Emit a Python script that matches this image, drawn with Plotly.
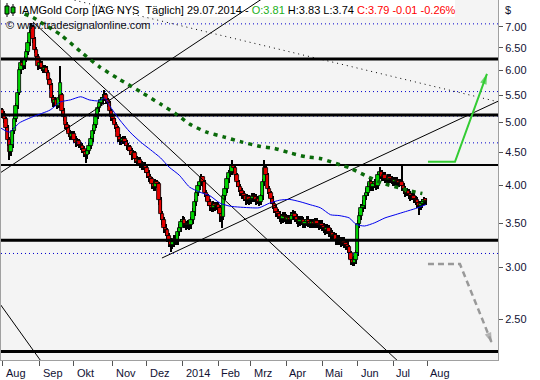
import math
import plotly.graph_objects as go

# ---------------- data ----------------
# daily OHLC, 01.08.2013 .. 29.07.2014 (trading-day index 0..249)
opens = [
5.22,5.15,5.05,4.90,
4.70,4.50,4.62,4.85,5.05,
5.30,5.55,6.00,6.15,6.10,
6.25,6.40,6.60,6.85,7.00,
6.70,6.45,6.30,6.10,6.15,
6.05,6.00,6.05,5.95,5.80,
5.70,5.45,5.35,5.40,5.30,
5.40,5.50,5.20,5.10,4.95,
4.90,4.80,4.75,4.80,4.70,
4.65,4.68,4.62,4.60,4.55,
4.50,4.45,4.52,4.60,4.72,
4.85,4.95,5.10,5.25,5.35,
5.40,5.45,5.50,5.40,5.35,
5.20,5.10,5.05,4.95,4.90,
4.75,4.70,4.68,4.72,4.66,
4.60,4.58,4.52,4.45,4.48,
4.40,4.35,4.38,4.32,4.28,
4.30,4.25,4.18,4.12,4.10,
4.02,3.98,4.05,4.02,3.80,
3.62,3.55,3.45,3.42,3.35,
3.30,3.25,3.28,3.32,3.30,
3.40,3.45,3.52,3.55,3.50,
3.48,3.50,3.48,3.55,3.65,
3.78,3.90,4.00,4.05,4.12,
4.05,3.90,3.85,3.78,3.72,
3.70,3.75,3.72,3.74,3.70,
3.62,3.58,3.85,3.95,4.10,
4.18,4.20,4.28,4.25,4.15,
4.05,3.98,3.92,3.88,3.85,
3.80,3.84,3.80,3.82,3.86,
3.84,3.80,3.82,3.78,3.85,
4.05,4.25,4.15,3.95,3.90,
3.82,3.75,3.70,3.65,3.62,
3.58,3.56,3.60,3.58,3.55,
3.57,3.55,3.60,3.62,3.58,
3.55,3.52,3.55,3.54,3.50,
3.52,3.55,3.52,3.50,3.52,
3.50,3.53,3.50,3.48,3.50,
3.47,3.45,3.42,3.45,3.40,
3.38,3.35,3.36,3.30,3.32,
3.30,3.28,3.30,3.27,3.25,
3.22,3.15,3.08,3.05,3.08,
3.15,3.50,3.60,3.70,3.72,
3.85,3.90,3.98,4.05,3.98,
4.02,4.05,4.00,4.15,4.20,
4.12,4.15,4.10,4.08,4.12,
4.10,4.08,4.05,4.08,4.06,
4.04,4.05,4.00,3.95,3.90,
3.92,3.88,3.85,3.86,3.82,
3.80,3.76,3.72,3.75,3.78,
3.81]

highs = [
5.26,5.20,5.10,4.95,
4.74,4.68,4.90,5.10,5.36,
5.62,6.08,6.22,6.22,6.32,
6.48,6.68,6.92,7.10,7.04,
6.76,6.52,6.36,6.22,6.20,
6.12,6.12,6.10,6.00,5.85,
5.75,5.50,5.46,5.44,5.50,
6.10,5.55,5.25,5.14,5.00,
4.95,4.86,4.85,4.84,4.76,
4.73,4.72,4.67,4.65,4.60,
4.54,4.57,4.65,4.77,4.90,
5.00,5.16,5.30,5.40,5.46,
5.52,5.60,5.54,5.45,5.38,
5.24,5.14,5.08,5.00,4.94,
4.80,4.75,4.77,4.76,4.70,
4.64,4.62,4.56,4.53,4.52,
4.44,4.43,4.42,4.36,4.35,
4.34,4.28,4.22,4.16,4.13,
4.06,4.10,4.08,4.05,3.84,
3.66,3.58,3.50,3.45,3.39,
3.33,3.32,3.36,3.36,3.44,
3.50,3.56,3.60,3.58,3.53,
3.54,3.53,3.58,3.70,3.82,
3.94,4.05,4.10,4.16,4.14,
4.08,3.94,3.88,3.82,3.76,
3.79,3.78,3.78,3.77,3.73,
3.66,3.88,3.99,4.14,4.22,
4.26,4.38,4.32,4.28,4.18,
4.08,4.02,3.96,3.92,3.89,
3.88,3.87,3.86,3.90,3.90,
3.88,3.86,3.85,3.89,4.10,
4.38,4.30,4.18,3.99,3.93,
3.86,3.79,3.74,3.69,3.66,
3.62,3.64,3.64,3.62,3.61,
3.61,3.64,3.67,3.66,3.62,
3.59,3.59,3.59,3.58,3.56,
3.59,3.59,3.56,3.56,3.56,
3.57,3.57,3.54,3.54,3.54,
3.51,3.49,3.49,3.48,3.44,
3.42,3.40,3.39,3.36,3.36,
3.34,3.34,3.34,3.31,3.29,
3.25,3.18,3.11,3.12,3.19,
3.54,3.65,3.75,3.80,3.90,
3.96,4.04,4.10,4.08,4.07,
4.10,4.08,4.20,4.27,4.22,
4.20,4.19,4.14,4.17,4.16,
4.14,4.12,4.12,4.12,4.10,
4.10,4.30,4.04,3.99,3.96,
3.95,3.92,3.90,3.90,3.86,
3.84,3.79,3.79,3.82,3.84,
3.83]

lows = [
5.08,4.98,4.84,4.60,
4.38,4.44,4.56,4.80,5.00,
5.24,5.50,5.92,6.02,6.04,
6.18,6.34,6.54,6.78,6.62,
6.38,6.22,6.02,6.04,5.98,
5.94,5.94,5.88,5.72,5.62,
5.38,5.28,5.29,5.24,5.25,
5.34,5.14,5.03,4.88,4.83,
4.74,4.69,4.70,4.64,4.58,
4.60,4.56,4.54,4.49,4.43,
4.33,4.40,4.47,4.55,4.67,
4.80,4.90,5.05,5.19,5.29,
5.34,5.38,5.33,5.28,5.13,
5.03,4.98,4.88,4.83,4.66,
4.62,4.62,4.63,4.60,4.54,
4.52,4.46,4.38,4.40,4.33,
4.28,4.30,4.26,4.22,4.23,
4.18,4.11,4.05,4.04,3.95,
3.92,3.93,3.96,3.74,3.55,
3.48,3.38,3.35,3.28,3.22,
3.17,3.20,3.22,3.24,3.25,
3.35,3.40,3.46,3.44,3.42,
3.43,3.42,3.43,3.50,3.60,
3.72,3.85,3.94,3.99,3.98,
3.84,3.79,3.72,3.66,3.64,
3.65,3.66,3.67,3.63,3.52,
3.45,3.54,3.80,3.90,4.04,
4.12,4.15,4.18,4.08,3.98,
3.91,3.85,3.82,3.79,3.74,
3.75,3.74,3.75,3.77,3.78,
3.74,3.75,3.72,3.73,3.80,
4.00,4.08,3.88,3.83,3.75,
3.68,3.63,3.58,3.56,3.52,
3.50,3.51,3.52,3.49,3.50,
3.49,3.50,3.54,3.52,3.49,
3.46,3.47,3.48,3.44,3.45,
3.47,3.46,3.44,3.45,3.44,
3.45,3.44,3.42,3.43,3.41,
3.39,3.36,3.37,3.34,3.32,
3.29,3.30,3.24,3.25,3.24,
3.22,3.23,3.21,3.19,3.16,
3.09,3.03,3.01,3.01,3.04,
3.12,3.45,3.55,3.64,3.68,
3.80,3.85,3.93,3.92,3.93,
3.96,3.94,3.95,4.09,4.06,
4.07,4.04,4.02,4.03,4.04,
4.02,3.99,4.00,4.00,3.98,
3.99,3.93,3.88,3.84,3.85,
3.82,3.79,3.80,3.76,3.74,
3.70,3.61,3.67,3.70,3.73,
3.74]

closes = [
5.15,5.05,4.90,4.70,
4.50,4.62,4.85,5.05,5.30,
5.55,6.00,6.15,6.10,6.25,
6.40,6.60,6.85,7.00,6.70,
6.45,6.30,6.10,6.15,6.05,
6.00,6.05,5.95,5.80,5.70,
5.45,5.35,5.40,5.30,5.45,
5.75,5.20,5.10,4.95,4.90,
4.80,4.75,4.80,4.70,4.65,
4.68,4.62,4.60,4.55,4.50,
4.45,4.52,4.60,4.72,4.85,
4.95,5.10,5.25,5.35,5.40,
5.45,5.50,5.40,5.35,5.20,
5.10,5.05,4.95,4.90,4.75,
4.70,4.68,4.72,4.66,4.60,
4.58,4.52,4.45,4.48,4.40,
4.35,4.38,4.32,4.28,4.30,
4.25,4.18,4.12,4.10,4.02,
3.98,4.05,4.02,3.80,3.62,
3.55,3.45,3.42,3.35,3.30,
3.25,3.28,3.32,3.30,3.40,
3.45,3.52,3.55,3.50,3.48,
3.50,3.48,3.55,3.65,3.78,
3.90,4.00,4.05,4.12,4.05,
3.90,3.85,3.78,3.72,3.70,
3.75,3.72,3.74,3.70,3.62,
3.58,3.85,3.95,4.10,4.18,
4.20,4.28,4.25,4.15,4.05,
3.98,3.92,3.88,3.85,3.80,
3.84,3.80,3.82,3.86,3.84,
3.80,3.82,3.78,3.85,4.05,
4.25,4.15,3.95,3.90,3.82,
3.75,3.70,3.65,3.62,3.58,
3.56,3.60,3.58,3.55,3.57,
3.55,3.60,3.62,3.58,3.55,
3.52,3.55,3.54,3.50,3.52,
3.55,3.52,3.50,3.52,3.50,
3.53,3.50,3.48,3.50,3.47,
3.45,3.42,3.45,3.40,3.38,
3.35,3.36,3.30,3.32,3.30,
3.28,3.30,3.27,3.25,3.22,
3.15,3.08,3.05,3.08,3.15,
3.50,3.60,3.70,3.72,3.85,
3.90,3.98,4.05,3.98,4.02,
4.05,4.00,4.15,4.20,4.12,
4.15,4.10,4.08,4.12,4.10,
4.08,4.05,4.08,4.06,4.04,
4.05,4.00,3.95,3.90,3.92,
3.88,3.85,3.86,3.82,3.80,
3.76,3.72,3.75,3.78,3.80,
3.79]

# x-axis month labels at first trading day of month (index)
month_labels = ["Aug", "Sep", "Okt", "Nov", "Dez", "2014", "Feb", "Mrz",
                "Apr", "Mai", "Jun", "Jul", "Aug"]
month_idx = [0, 22, 42, 65, 85, 106, 127, 146, 167, 188, 209, 230, 250]

# y-axis ticks
y_ticks = [2.5, 3.0, 3.5, 4.0, 4.5, 5.0, 5.5, 6.0, 6.5, 7.0]

# blue moving average (index, price)
ma_blue_x = [-1, 4, 10, 18, 28, 34, 40, 46, 51, 57, 60, 63, 69, 75, 81, 87, 93,
             98, 104, 110, 116, 122, 128, 134, 146, 151, 157, 163, 169, 175,
             181, 187, 193, 198, 204, 208, 213, 219, 225, 231, 237, 243, 249]
ma_blue_y = [4.90, 4.83, 4.99, 5.10, 5.22, 5.37, 5.41, 5.47, 5.41, 5.39, 5.45,
             5.30, 5.04, 4.83, 4.67, 4.54, 4.41, 4.27, 4.15, 3.98, 3.91, 3.86,
             3.76, 3.72, 3.70, 3.70, 3.76, 3.80, 3.81, 3.78, 3.74, 3.70, 3.61,
             3.60, 3.57, 3.49, 3.47, 3.51, 3.57, 3.61, 3.65, 3.69, 3.74]

# green dotted moving average (index, price)
ma_green_x = [13, 18, 22, 34, 46, 57, 69, 81, 93, 102, 110, 120, 130, 140, 152,
              160, 169, 178, 187, 199, 204, 213, 223, 233, 243, 247]
ma_green_y = [7.32, 7.23, 7.12, 6.81, 6.41, 6.08, 5.81, 5.57, 5.33, 5.15, 4.97,
              4.83, 4.75, 4.67, 4.59, 4.56, 4.49, 4.43, 4.40, 4.30, 4.26, 4.15,
              4.04, 3.97, 3.91, 3.89]

# horizontal support / resistance levels
levels_thick = [6.25, 5.13, 3.30, 2.23]
levels_medium = [4.30]
fib_levels = [7.07, 5.57, 5.11, 4.65, 3.15]

# trend lines: ((index, price), (index, price))
trend_solid = [
    ((17.9, 7.12), (232.6, 2.157)),
    ((-7.35, 2.770), (25.0, 2.114)),
    ((-7.35, 4.085), (152.6, 7.72)),
    ((93.8, 3.10), (298.5, 5.49)),
]
trend_dotted = [((33.8, 7.78), (298.5, 5.32))]

# scenario arrows (index, price)
up_arrow_x = [250.3, 266.2, 285.0]
up_arrow_y = [4.35, 4.35, 5.93]
down_arrow_x = [250.3, 269.1, 287.9]
down_arrow_y = [3.035, 3.035, 2.298]

# ---------------- figure ----------------
FONT = "Liberation Sans, Arial, sans-serif"
X_RANGE = [-0.88, 291.5]
Y_RANGE = [math.log10(2.1647), math.log10(7.690)]
W, H = 540, 380
ML, MR, MT, MB = 1, 42, 0, 20
PW, PH = W - ML - MR, H - MT - MB


def px_x(px):
    return (px - ML) / PW


def px_y(py):
    return (MT + PH - py) / PH


n = min(len(opens), len(highs), len(lows), len(closes))
idx = list(range(n))

fig = go.Figure()

# wicks (thin black bars, drawn in the bar layer below the bodies)
fig.add_trace(go.Bar(x=idx, y=[highs[i] - lows[i] for i in idx], base=lows[:n],
                     width=0.62, marker=dict(color="black", line=dict(width=0)),
                     hoverinfo="skip", showlegend=False))

# bodies
base = [min(opens[i], closes[i]) for i in idx]
size = [max(abs(closes[i] - opens[i]), 0.004) for i in idx]
cols = ["#00D800" if closes[i] >= opens[i] else "#E80000" for i in idx]
fig.add_trace(go.Bar(x=idx, y=size, base=base, width=2.0,
                     marker=dict(color=cols, line=dict(color="black", width=0.8)),
                     hoverinfo="skip", showlegend=False))

# fib levels (blue dotted)
for lv in fib_levels:
    fig.add_trace(go.Scatter(x=X_RANGE, y=[lv, lv], mode="lines",
                             line=dict(color="#0000CC", width=1, dash="1px,3px"),
                             hoverinfo="skip", showlegend=False))

# horizontal levels
for lv in levels_thick:
    fig.add_trace(go.Scatter(x=X_RANGE, y=[lv, lv], mode="lines",
                             line=dict(color="black", width=3),
                             hoverinfo="skip", showlegend=False))
for lv in levels_medium:
    fig.add_trace(go.Scatter(x=X_RANGE, y=[lv, lv], mode="lines",
                             line=dict(color="black", width=2),
                             hoverinfo="skip", showlegend=False))

# trend lines
for (a, b) in trend_solid:
    fig.add_trace(go.Scatter(x=[a[0], b[0]], y=[a[1], b[1]], mode="lines",
                             line=dict(color="black", width=1),
                             hoverinfo="skip", showlegend=False))
for (a, b) in trend_dotted:
    fig.add_trace(go.Scatter(x=[a[0], b[0]], y=[a[1], b[1]], mode="lines",
                             line=dict(color="black", width=1, dash="1px,4px"),
                             hoverinfo="skip", showlegend=False))

# moving averages
fig.add_trace(go.Scatter(x=ma_blue_x, y=ma_blue_y, mode="lines",
                         line=dict(color="#0000EE", width=1, shape="spline", smoothing=0.6),
                         hoverinfo="skip", showlegend=False))
fig.add_trace(go.Scatter(x=ma_green_x, y=ma_green_y, mode="lines",
                         line=dict(color="#0A6A0A", width=3.5, dash="4px,5px",
                                   shape="spline", smoothing=0.6),
                         hoverinfo="skip", showlegend=False))

# scenario arrows
fig.add_trace(go.Scatter(x=up_arrow_x, y=up_arrow_y, mode="lines+markers",
                         line=dict(color="#33CC33", width=2),
                         marker=dict(symbol="arrow", size=[0, 0, 11], angleref="previous",
                                     color="#33CC33", line=dict(width=0)),
                         hoverinfo="skip", showlegend=False))
fig.add_trace(go.Scatter(x=down_arrow_x, y=down_arrow_y, mode="lines+markers",
                         line=dict(color="#999999", width=2.5, dash="6px,4px"),
                         marker=dict(symbol="arrow", size=[0, 0, 11], angleref="previous",
                                     color="#999999", line=dict(width=0)),
                         hoverinfo="skip", showlegend=False))

shapes = [
    # white header box
    dict(type="rect", xref="paper", yref="paper", x0=px_x(-2), x1=px_x(455),
         y0=px_y(17), y1=px_y(-2), fillcolor="white", line=dict(width=0), layer="below"),
    # candle icon
    dict(type="line", xref="paper", yref="paper", x0=px_x(7), x1=px_x(7),
         y0=px_y(3), y1=px_y(17), line=dict(color="black", width=1), layer="above"),
    dict(type="rect", xref="paper", yref="paper", x0=px_x(5), x1=px_x(9),
         y0=px_y(6), y1=px_y(14), fillcolor="#00C000", line=dict(color="black", width=1), layer="above"),
    dict(type="line", xref="paper", yref="paper", x0=px_x(13), x1=px_x(13),
         y0=px_y(4), y1=px_y(16), line=dict(color="black", width=1), layer="above"),
    dict(type="rect", xref="paper", yref="paper", x0=px_x(11), x1=px_x(15),
         y0=px_y(7), y1=px_y(13), fillcolor="#00C000", line=dict(color="black", width=1), layer="above"),
]

annotations = [
    dict(xref="paper", yref="paper", x=px_x(17), y=px_y(9.5), xanchor="left", yanchor="middle",
         showarrow=False, font=dict(family=FONT, size=11, color="black"),
         text="IAMGold Corp [IAG NYS\u00a0 Täglich] 29.07.2014 - "
              "<span style='color:#22B022'>O:3.81</span> H:3.83 L:3.74 "
              "<span style='color:#FF0000'>C:3.79 -0.01 -0.26%</span>"),
    dict(xref="paper", yref="paper", x=px_x(4), y=px_y(25.5), xanchor="left", yanchor="middle",
         showarrow=False, font=dict(family=FONT, size=11, color="#111111"),
         text="© www.tradesignalonline.com"),
    dict(xref="paper", yref="paper", x=px_x(503), y=px_y(10), xanchor="left", yanchor="middle",
         showarrow=False, font=dict(family=FONT, size=11, color="#111133"), text="$"),
]
for lab, mi in zip(month_labels, month_idx):
    annotations.append(dict(xref="x", yref="paper", x=mi, y=px_y(373), xanchor="left",
                            yanchor="middle", xshift=1, showarrow=False,
                            font=dict(family=FONT, size=11, color="#111133"), text=lab))

fig.update_layout(
    width=W, height=H,
    margin=dict(l=ML, r=MR, t=MT, b=MB, pad=0),
    paper_bgcolor="white", plot_bgcolor="#F4F4F4",
    showlegend=False, bargap=0, barmode="overlay",
    font=dict(family=FONT, size=11, color="#111133"),
    shapes=shapes, annotations=annotations,
    xaxis=dict(range=X_RANGE, showgrid=False, zeroline=False,
               tickvals=month_idx, showticklabels=False, ticks="outside",
               ticklen=5, tickcolor="#555555", showline=True, linecolor="#A0A0A0",
               linewidth=1, mirror=True, fixedrange=True),
    yaxis=dict(type="log", range=Y_RANGE, side="right", showgrid=False, zeroline=False,
               tickvals=y_ticks, ticktext=["%.2f" % v for v in y_ticks],
               ticks="outside", ticklen=4, tickcolor="#555555",
               tickfont=dict(family=FONT, size=11, color="#111133"),
               showline=True, linecolor="#A0A0A0", linewidth=1, mirror=True,
               fixedrange=True),
)

fig.write_html("out.html", config={"displayModeBar": False},
               post_script="document.body.style.margin='0';document.body.style.overflow='hidden';")
